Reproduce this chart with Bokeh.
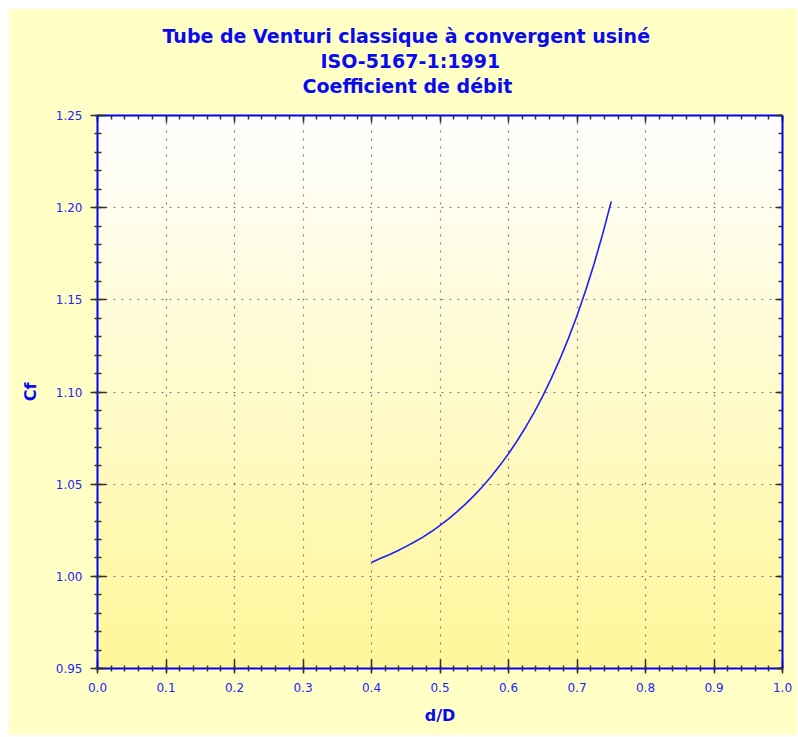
import numpy as np
from bokeh.plotting import figure
from bokeh.models import LinearAxis, SingleIntervalTicker, Range1d, Title, PrintfTickFormatter
from bokeh.embed import file_html
from bokeh.resources import INLINE

# ---- data ----
ratio = [0.4000, 0.4125, 0.4250, 0.4375, 0.4500, 0.4625, 0.4750, 0.4875,
         0.5000, 0.5125, 0.5250, 0.5375, 0.5500, 0.5625, 0.5750, 0.5875,
         0.6000, 0.6125, 0.6250, 0.6375, 0.6500, 0.6625, 0.6750, 0.6875,
         0.7000, 0.7125, 0.7250, 0.7375, 0.7500]
cf = [1.0075, 1.0097, 1.0116, 1.0137, 1.0161, 1.0186, 1.0213, 1.0243,
      1.0277, 1.0312, 1.0351, 1.0393, 1.0439, 1.0489, 1.0543, 1.0602,
      1.0665, 1.0734, 1.0809, 1.0890, 1.0978, 1.1074, 1.1178, 1.1291,
      1.1414, 1.1549, 1.1696, 1.1857, 1.2034]

title_lines = ["Tube de Venturi classique à convergent usiné",
               "ISO-5167-1:1991",
               "Coefficient de débit"]
x_label = "d/D"
y_label = "Cf"

BLUE = "#0000FF"
TXT = "#0A0AF0"
TICKLBL = "#2424FF"
TICK = "#303030"
FONT = "DejaVu Sans"

p = figure(width=789, height=727, output_backend="svg", toolbar_location=None,
           x_range=Range1d(0, 1), y_range=Range1d(0.95, 1.25),
           min_border_left=89, min_border_right=15,
           min_border_top=107, min_border_bottom=67,
           border_fill_color="#FFFFC6", background_fill_color="#FFFFFF",
           outline_line_color=None)
p.margin = (8, 0, 0, 8)

# vertical gradient background (white at top -> yellow at bottom)
n = 300
top = np.array([255, 255, 255], dtype=float)
bot = np.array([255, 247, 153], dtype=float)
img = np.zeros((n, 1), dtype=np.uint32)
view = img.view(dtype=np.uint8).reshape((n, 1, 4))
for i in range(n):
    t = i / (n - 1)  # row 0 is bottom
    c = bot * (1 - t) + top * t
    view[i, 0, 0] = int(c[0]); view[i, 0, 1] = int(c[1]); view[i, 0, 2] = int(c[2]); view[i, 0, 3] = 255
bg = p.image_rgba(image=[img], x=0, y=0.95, dw=1, dh=0.3)
bg.level = "image"

xt = SingleIntervalTicker(interval=0.1, num_minor_ticks=5)
yt = SingleIntervalTicker(interval=0.05, num_minor_ticks=5)

def style_axis(ax, ticker, tin, tout, mtin, mtout, labels=True):
    ax.ticker = ticker
    ax.axis_line_color = BLUE
    ax.axis_line_width = 2
    ax.major_tick_line_color = TICK
    ax.minor_tick_line_color = TICK
    ax.major_tick_line_width = 1.5
    ax.minor_tick_line_width = 1.5
    ax.major_tick_in = tin
    ax.major_tick_out = tout
    ax.minor_tick_in = mtin
    ax.minor_tick_out = mtout
    if labels:
        ax.major_label_text_font = FONT
        ax.major_label_text_font_size = "12px"
        ax.major_label_text_color = TICKLBL
        ax.axis_label_text_font = FONT
        ax.axis_label_text_font_size = "16px"
        ax.axis_label_text_font_style = "bold"
        ax.axis_label_text_color = TXT
    else:
        ax.major_label_text_font_size = "1px"
        ax.major_label_text_color = None

xa = p.xaxis[0]
style_axis(xa, xt, 9, 5, 3, 3)
xa.axis_label = x_label
xa.major_label_standoff = 9
xa.axis_label_standoff = 11
xa.formatter = PrintfTickFormatter(format="%.1f")

ya = p.yaxis[0]
style_axis(ya, yt, 9, 7, 4, 3)
ya.axis_label = y_label
ya.major_label_standoff = 8
ya.axis_label_standoff = 13
ya.formatter = PrintfTickFormatter(format="%.2f")

ra = LinearAxis()
style_axis(ra, yt, 7, 0, 4, 0, labels=False)
ra.major_label_standoff = 0
p.add_layout(ra, "right")

ta = LinearAxis()
style_axis(ta, xt, 7, 0, 4, 0, labels=False)
ta.major_label_standoff = 0
p.add_layout(ta, "above")

# blank spacer between the frame and the title block
p.add_layout(Title(text=" ", text_font=FONT, text_font_size="10px",
                   text_color="#FFFFC6", standoff=6), "above")

offsets = [65, 223, 205]
standoffs = [1, 1, 0]
for idx in (2, 1, 0):
    p.add_layout(Title(text=title_lines[idx], align="left", text_font=FONT,
                       text_font_size="19px", text_font_style="bold",
                       text_color=TXT, standoff=standoffs[idx],
                       offset=offsets[idx]), "above")

for g in (p.xgrid[0], p.ygrid[0]):
    g.grid_line_color = "#7A7A7A"
    g.grid_line_dash = "2 6"
    g.grid_line_width = 1.2
p.xgrid[0].ticker = xt
p.ygrid[0].ticker = yt

p.line(ratio, cf, line_color="#1E1EFF", line_width=1.6)

open("out.html", "w").write(file_html(p, INLINE))
